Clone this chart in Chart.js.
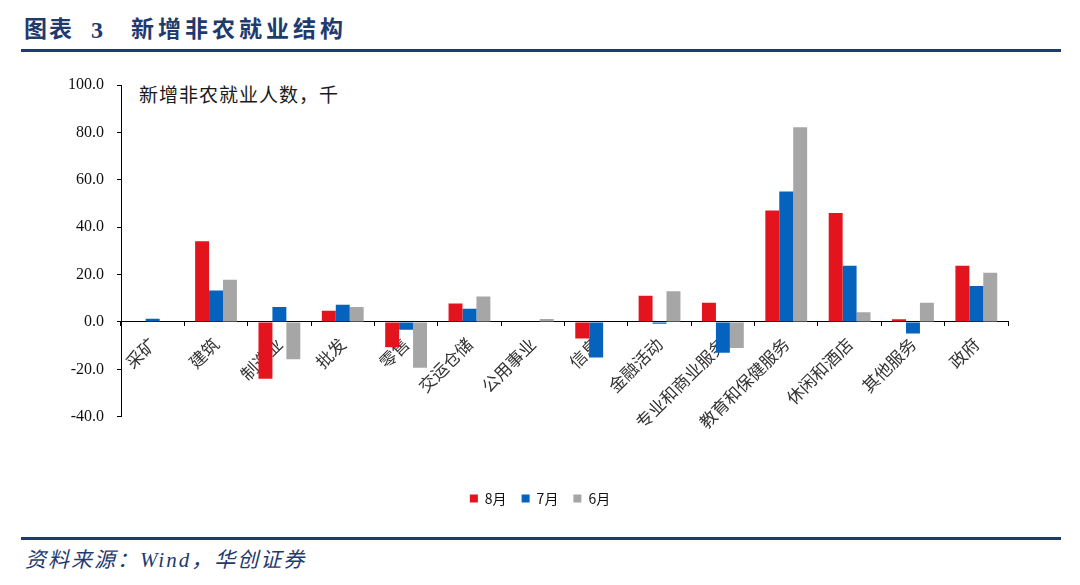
<!DOCTYPE html>
<html>
<head>
<meta charset="utf-8">
<script src="https://cdn.jsdelivr.net/npm/chart.js@4.4.1/dist/chart.umd.min.js"></script>
<style>
	html, body { margin: 0; padding: 0; background: #fff; }
	body { width: 1080px; height: 585px; position: relative; overflow: hidden; }
	.title { position: absolute; top: 15px; height: 30px; line-height: 30px; font: bold 23px 'Liberation Serif', 'Noto Sans CJK SC'; line-height: 30px; color: #1f3a6e; white-space: pre; }
	.rule { position: absolute; left: 21px; width: 1040px; height: 3px; background: #1f3a6e; }
	.note { position: absolute; left: 139px; top: 80px; font: 19px 'Noto Sans CJK SC'; letter-spacing: 1px; color: #1a1a1a; }
	.source { position: absolute; left: 25px; top: 543px; font: italic 21px 'Liberation Serif', 'Noto Sans CJK SC'; letter-spacing: 2px; color: #1f3a6e; }
	canvas { position: absolute; left: 0; top: 0; }
</style>
</head>
<body>
<div class="title" style="left: 24px; letter-spacing: 2px">图表</div>
<div class="title" style="left: 91px; font-size: 24px">3</div>
<div class="title" style="left: 131px; letter-spacing: 4px">新增非农就业结构</div>
<div class="rule" style="top: 49px"></div>
<div class="note">新增非农就业人数，千</div>
<div class="rule" style="top: 537px"></div>
<div class="source">资料来源：Wind，华创证券</div>
<canvas id="chart" width="1080" height="585"></canvas>
<script>
const categories = ['采矿', '建筑', '制造业', '批发', '零售', '交运仓储', '公用事业', '信息', '金融活动', '专业和商业服务', '教育和保健服务', '休闲和酒店', '其他服务', '政府'];
const aug = [0, 34, -24, 4.7, -10.7, 7.8, 0, -7, 11.1, 8.1, 47, 46, 1.1, 23.7];
const jul = [1.3, 13.3, 6.3, 7.3, -3.3, 5.6, 0, -15, -0.8, -13, 55, 23.7, -4.9, 15.2];
const jun = [0, 17.8, -15.8, 6.3, -19.3, 10.7, 1.2, 0, 13, -11, 82.2, 4.1, 8.1, 20.8];
const yTicks = { min: -40, max: 100, step: 20 };

const cjk = 'Noto Sans CJK SC';

const bar = (label, data, color) => ({
	label,
	data,
	backgroundColor: color,
	borderWidth: 0,
	barPercentage: 1,
	categoryPercentage: 0.66
});

new Chart(document.getElementById('chart'), {
	type: 'bar',
	data: {
		labels: categories,
		datasets: [
			bar('8月', aug, '#e3141e'),
			bar('7月', jul, '#0563be'),
			bar('6月', jun, '#a6a6a6')
		]
	},
	options: {
		responsive: false,
		animation: false,
		devicePixelRatio: 1,
		layout: {
			padding: { top: 85, right: 0, bottom: 69.5, left: 0 }
		},
		scales: {
			x: {
				position: { y: 0 },
				grid: {
					offset: true,
					drawOnChartArea: false,
					drawTicks: true,
					tickLength: 4,
					color: '#000'
				},
				border: { color: '#000', width: 1 },
				ticks: {
					autoSkip: false,
					minRotation: 45,
					maxRotation: 45,
					padding: 8,
					color: '#333',
					font: { family: cjk, size: 17 }
				}
			},
			y: {
				min: yTicks.min,
				max: yTicks.max,
				afterFit: (scale) => { scale.width = 121; },
				grid: {
					drawOnChartArea: false,
					drawTicks: true,
					tickLength: 4,
					color: '#000'
				},
				border: { color: '#000', width: 1 },
				ticks: {
					stepSize: yTicks.step,
					padding: 13,
					color: '#111',
					font: { family: 'Liberation Serif', size: 16 },
					callback: (v) => v.toFixed(1)
				}
			},
			pad: {
				type: 'linear',
				position: 'right',
				afterFit: (scale) => { scale.width = 72; },
				grid: { display: false },
				border: { display: false },
				ticks: { display: false }
			}
		},
		plugins: {
			legend: {
				position: 'bottom',
				onClick: null,
				title: {
					display: true,
					text: '',
					font: { size: 10 },
					padding: { top: 47.8, bottom: 0 }
				},
				labels: {
					boxWidth: 8,
					boxHeight: 8,
					padding: 15,
					color: '#111',
					font: { family: cjk, size: 14 }
				}
			},
			tooltip: { enabled: false }
		}
	}
});
</script>
</body>
</html>
